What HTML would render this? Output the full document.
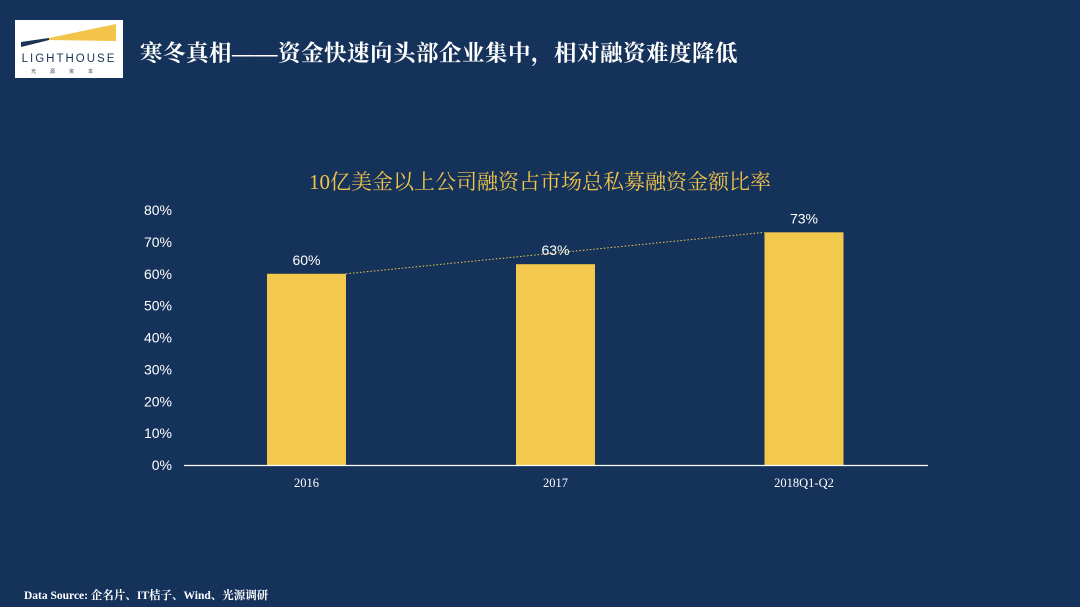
<!DOCTYPE html>
<html><head><meta charset="utf-8"><style>
body{margin:0;width:1080px;height:607px;background:#15325a;overflow:hidden;font-family:"Liberation Sans","Noto Sans CJK SC",sans-serif;position:relative}
.logo{position:absolute;left:15px;top:20px;width:108px;height:58px;background:#fff}
.title{position:absolute;left:140px;top:36px;color:#fff;font-size:22.5px;letter-spacing:0.5px;font-family:"Liberation Serif","Noto Serif CJK SC",serif;font-weight:bold}
.src{position:absolute;left:24px;top:587px;color:#fff;font-size:11.5px;font-weight:bold;font-family:"Liberation Serif","Noto Serif CJK SC",serif}
</style></head><body>
<div class="logo">
<svg width="108" height="58"><polygon points="6,22 34,18 101,4 101,21 34,20 6,27" fill="#f2c44a"/><polygon points="6,22 34,18 34,20 6,27" fill="#1b3358"/>
<text x="54" y="42" text-anchor="middle" font-size="11.5" letter-spacing="2" fill="#1b3358" font-family="Liberation Sans">LIGHTHOUSE</text>
<text x="54" y="53" text-anchor="middle" font-size="5" letter-spacing="14" fill="#1b3358">光源资本</text></svg></div>
<div class="title">寒冬真相——资金快速向头部企业集中，相对融资难度降低</div>
<svg id="chart" width="1080" height="607" style="position:absolute;left:0;top:0"></svg>
<div class="src">Data Source: 企名片、IT桔子、Wind、光源调研</div>
<script>
const categories=["2016","2017","2018Q1-Q2"];
const values=[60,63,73];
const valueLabels=["60%","63%","73%"];
const ticks=[0,10,20,30,40,50,60,70,80];
const NS="http://www.w3.org/2000/svg";
const svg=document.getElementById('chart');
const y0=465,yTop=210,x0=184,x1=928;
const y=v=>y0-(v/80)*(y0-yTop);
const bw=79,centers=[306.5,555.5,804];
const x=i=>centers[i];
function mk(t,a,txt){const e=document.createElementNS(NS,t);for(const k in a)e.setAttribute(k,a[k]);if(txt!=null)e.textContent=txt;svg.appendChild(e);return e;}
let t=mk('text',{x:540,y:189,'text-anchor':'middle',fill:'#f2c44a','font-size':21,'font-family':'Liberation Serif,Noto Serif CJK SC,serif'},'10亿美金以上公司融资占市场总私募融资金额比率');


ticks.forEach(v=>{const e=mk('text',{x:172,y:y(v)+5,'text-anchor':'end',fill:'#fff','font-size':14},v+'%');

});
values.forEach((v,i)=>{const r=mk('rect',{x:x(i)-bw/2,y:y(v),width:bw,height:y0-y(v),fill:'#f2c94c'});


const l=mk('text',{x:x(i),y:y(v)-9,'text-anchor':'middle',fill:'#fff','font-size':14},valueLabels[i]);


const c=mk('text',{x:x(i),y:487,'text-anchor':'middle',fill:'#fff','font-size':12.5,'font-family':'Liberation Serif,serif'},categories[i]);

});
const ln=mk('line',{x1:x(0)+bw/2,y1:y(values[0]),x2:x(2)-bw/2,y2:y(values[2]),stroke:'#f2c94c','stroke-width':1,'stroke-dasharray':'1.5,2'});


const ax=mk('line',{x1:x0,y1:y0+0.5,x2:x1,y2:y0+0.5,stroke:'#fff','stroke-width':1.2});


</script>
</body></html>
